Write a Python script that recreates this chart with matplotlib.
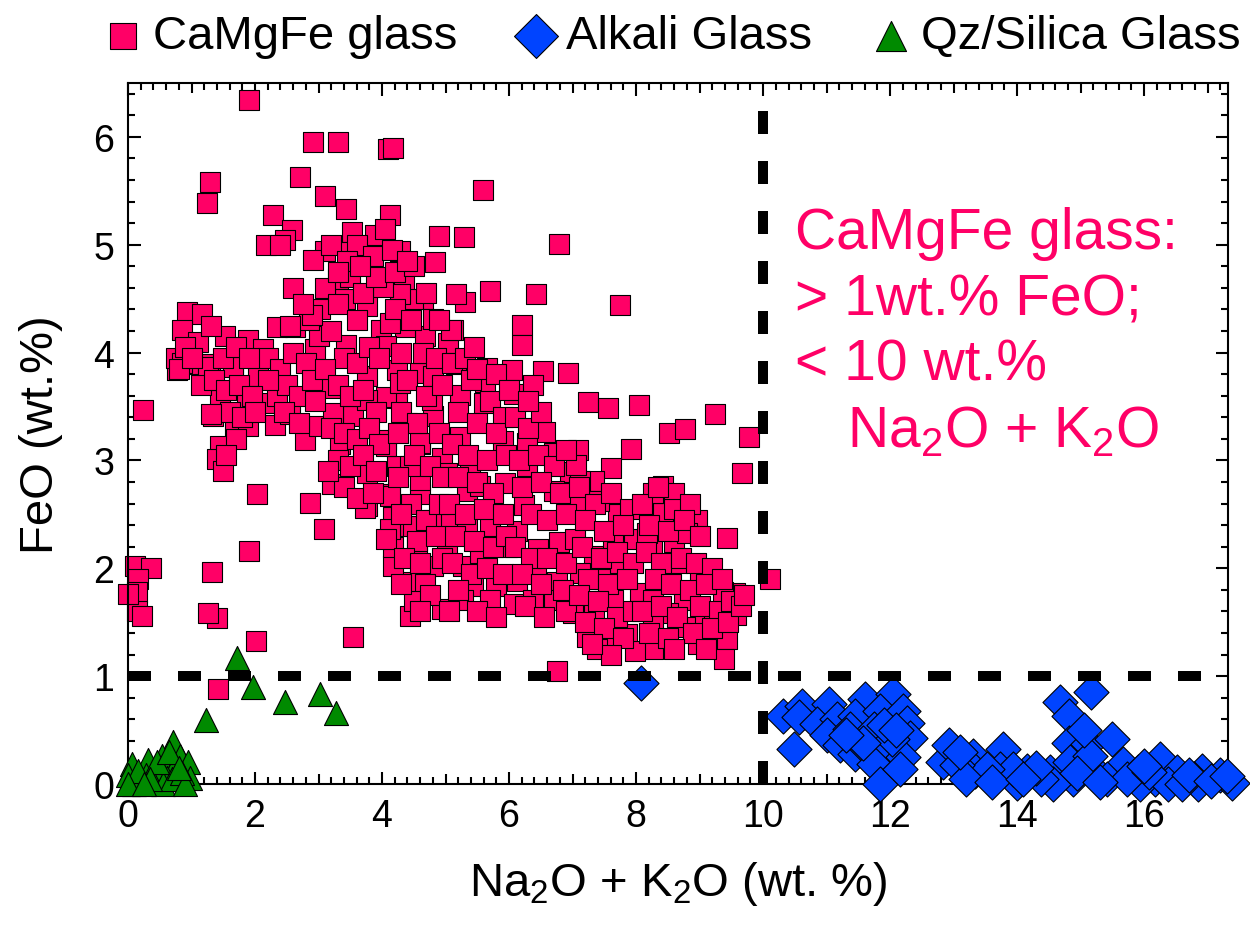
import numpy as np
import matplotlib
matplotlib.use("Agg")
import matplotlib.pyplot as plt
from matplotlib.ticker import MultipleLocator, FixedLocator

plt.rcParams['font.family'] = ['Liberation Sans', 'DejaVu Sans']
plt.rcParams['mathtext.fontset'] = 'custom'
plt.rcParams['mathtext.rm'] = 'Liberation Sans'
plt.rcParams['mathtext.it'] = 'Liberation Sans:italic'

# CaMgFe glass (Na2O+K2O, FeO)
camgfe = np.array([
    (1.91, 6.34), (2.91, 5.95), (3.31, 5.95), (4.10, 5.89), (4.18, 5.90), (2.71, 5.63), (1.29, 5.58),
    (1.25, 5.39), (3.10, 5.45), (3.43, 5.33), (2.28, 5.28), (4.13, 5.28), (2.59, 5.14), (2.18, 5.00),
    (2.47, 5.04), (3.89, 5.09), (3.52, 5.12), (4.90, 5.08), (3.10, 4.94), (3.47, 4.93), (2.92, 4.86),
    (4.28, 4.94), (3.81, 4.81), (4.83, 4.84), (3.30, 4.68), (4.34, 4.66), (4.65, 4.50), (3.02, 4.40),
    (3.42, 4.50), (3.76, 4.43), (2.34, 4.24), (2.63, 4.24), (0.93, 4.38), (1.16, 4.36), (0.85, 4.21),
    (1.53, 4.15), (1.89, 4.12), (2.13, 4.03), (2.94, 4.03), (3.43, 4.07), (3.99, 4.21), (4.68, 4.15),
    (0.92, 3.89), (1.29, 3.89), (1.66, 3.89),
    (5.59, 5.51), (5.29, 5.07), (6.78, 5.01), (5.70, 4.57), (6.43, 4.54), (5.31, 4.47), (5.17, 4.54),
    (6.20, 4.26), (6.20, 4.07), (6.93, 3.81), (6.53, 3.83), (6.04, 3.84), (5.04, 4.09), (5.11, 4.21),
    (4.49, 4.50),
    (7.75, 4.44), (7.25, 3.54), (7.56, 3.49), (8.05, 3.51), (9.24, 3.43), (8.52, 3.25), (8.77, 3.29),
    (9.78, 3.22), (6.57, 3.26), (7.08, 3.10), (7.92, 3.11), (7.60, 2.93), (9.66, 2.88), (6.96, 2.89),
    (7.33, 2.81), (6.70, 2.72), (8.43, 2.76), (8.56, 2.64), (8.96, 2.45), (9.43, 2.28), (7.72, 2.50),
    (8.22, 2.55), (7.41, 2.62), (7.08, 2.61), (6.24, 2.59), (5.94, 2.79), (5.34, 2.72), (4.60, 2.69),
    (4.12, 2.69), (4.94, 3.02), (4.60, 3.15), (5.91, 3.18), (6.28, 3.16), (5.23, 3.22), (4.39, 3.35),
    (4.81, 3.41), (5.60, 3.53), (6.07, 3.62), (6.38, 3.70), (5.62, 3.73), (4.23, 3.58), (4.78, 3.56),
    (5.23, 3.61), (5.17, 3.89), (5.65, 3.86), (4.81, 4.31), (4.36, 4.24), (5.09, 4.21), (4.28, 4.54),
    (4.02, 4.61), (4.13, 4.27), (4.07, 4.06), (4.23, 3.84), (4.60, 3.81), (4.07, 3.59), (4.07, 3.19),
    (4.23, 2.95), (4.60, 2.82), (5.02, 2.88), (5.39, 2.95), (5.54, 2.76), (6.28, 2.95), (7.12, 2.81),
    (7.06, 2.96), (6.70, 3.07),
    (4.18, 2.48), (4.44, 2.39), (4.81, 2.45), (5.09, 2.48), (5.33, 2.36), (5.70, 2.39), (6.12, 2.35),
    (6.46, 2.18), (6.78, 2.24), (7.04, 2.27), (7.33, 2.11), (7.64, 2.27), (7.96, 2.27), (8.25, 2.18),
    (8.59, 2.24), (8.64, 2.05), (9.01, 1.96), (8.75, 1.71), (9.56, 1.77), (9.58, 1.57), (9.43, 1.34),
    (9.38, 1.16), (8.98, 1.30), (9.01, 1.50), (8.51, 1.59), (8.77, 1.46), (8.27, 1.53), (8.27, 1.25),
    (7.85, 1.39), (7.54, 1.28), (7.22, 1.36), (7.38, 1.25), (7.98, 1.23), (6.75, 1.05), (7.00, 1.59),
    (7.33, 1.59), (7.64, 1.71), (8.06, 1.77), (8.27, 1.71), (7.49, 1.90), (7.12, 1.96), (7.75, 2.05),
    (6.75, 1.87), (6.43, 1.96), (6.12, 1.88), (5.80, 1.84), (5.44, 1.84), (5.28, 2.02), (4.81, 2.02),
    (4.39, 1.87), (4.68, 1.85), (4.44, 1.56), (4.94, 1.62), (5.28, 1.71), (5.70, 1.71), (6.07, 1.67),
    (6.38, 1.71), (6.70, 1.71), (4.18, 2.02), (4.18, 2.20), (4.55, 2.20), (5.02, 2.20), (5.54, 2.14),
    (5.96, 2.20), (8.17, 2.33), (8.43, 2.51), (8.59, 2.70), (8.27, 2.70), (8.80, 2.33), (10.11, 1.90),
    (9.37, 1.78), (9.22, 1.59),
    (0.24, 3.47), (0.77, 3.84), (0.95, 3.89), (1.26, 3.87), (1.66, 3.87), (2.05, 3.78), (1.45, 3.56),
    (1.87, 3.52), (2.18, 3.53), (1.34, 3.41), (1.69, 3.30), (1.89, 3.32), (2.31, 3.33), (2.55, 3.43),
    (2.34, 3.60), (2.79, 3.19), (1.45, 3.13), (1.40, 3.01), (1.50, 2.90), (2.03, 2.69), (2.87, 2.61),
    (3.08, 2.36), (3.21, 2.78), (3.34, 3.15), (3.00, 3.32), (3.18, 3.67), (3.76, 3.78), (3.55, 3.41),
    (3.23, 3.44), (3.76, 3.56), (3.76, 2.58), (3.76, 2.88), (4.13, 2.67), (4.13, 2.36), (4.49, 2.39),
    (4.44, 2.95), (4.07, 3.13), (4.60, 3.16), (4.28, 3.72), (4.81, 3.78),
    (1.91, 2.16), (1.32, 1.97), (3.73, 2.56), (4.07, 2.27), (1.40, 1.54), (1.26, 1.59), (0.11, 2.02),
    (0.37, 2.00), (0.16, 1.90), (0.14, 1.78), (0.14, 1.60), (0.22, 1.56), (0.00, 1.76), (3.55, 1.36),
    (2.02, 1.33), (1.41, 0.88),
    (2.20, 3.95), (2.40, 3.85), (2.60, 4.00), (2.80, 3.90), (2.50, 3.70), (2.70, 3.60), (2.90, 3.75),
    (2.20, 3.75), (2.45, 3.45), (2.70, 3.35), (2.95, 3.55), (3.00, 4.15), (2.85, 4.30), (2.55, 4.25),
    (3.10, 4.60), (3.30, 4.45), (3.50, 4.70), (3.70, 4.55), (3.90, 4.70), (3.60, 4.30), (3.20, 4.20),
    (3.40, 3.95), (3.60, 3.90), (3.80, 4.05), (3.95, 3.95), (3.10, 3.85), (3.30, 3.70), (3.50, 3.60),
    (3.70, 3.65), (3.90, 3.45), (3.20, 3.30), (3.40, 3.25), (3.60, 3.20), (3.80, 3.30), (3.95, 3.15),
    (3.30, 3.00), (3.50, 2.95), (3.70, 3.05), (3.90, 2.90), (3.40, 2.75), (3.60, 2.65), (3.15, 2.90),
    (3.85, 2.70),
    (4.20, 4.75), (4.50, 4.80), (4.70, 4.55), (4.20, 4.40), (4.45, 4.30), (4.65, 4.00), (4.30, 4.00),
    (4.90, 4.30), (4.85, 3.95), (4.40, 3.75), (4.70, 3.60), (4.95, 3.70), (4.30, 3.45), (4.55, 3.35),
    (4.90, 3.25), (4.25, 3.25), (4.50, 3.05), (4.75, 2.95), (4.95, 2.85), (4.25, 2.85), (4.45, 2.60),
    (4.70, 2.45), (4.90, 2.60), (4.30, 2.50), (4.55, 2.25), (4.85, 2.30), (4.35, 2.10), (4.60, 2.05),
    (4.95, 2.10), (4.50, 1.70), (4.75, 1.75), (4.30, 1.85), (4.60, 1.60),
    (5.10, 3.90), (5.40, 3.75), (5.70, 3.55), (5.90, 3.40), (5.20, 3.45), (5.50, 3.35), (5.80, 3.25),
    (5.10, 3.15), (5.35, 3.05), (5.65, 3.00), (5.95, 3.05), (5.20, 2.85), (5.50, 2.80), (5.75, 2.70),
    (5.05, 2.60), (5.30, 2.50), (5.60, 2.55), (5.90, 2.50), (5.15, 2.30), (5.45, 2.25), (5.75, 2.20),
    (5.95, 2.30), (5.10, 2.05), (5.40, 1.95), (5.65, 2.00), (5.90, 1.95), (5.20, 1.80), (5.50, 1.60),
    (5.80, 1.55), (5.05, 1.60),
    (6.10, 3.40), (6.30, 3.30), (6.50, 3.45), (6.15, 3.00), (6.45, 3.05), (6.70, 2.95), (6.90, 3.10),
    (6.20, 2.75), (6.50, 2.80), (6.80, 2.70), (6.35, 2.50), (6.60, 2.45), (6.90, 2.50), (6.10, 2.20),
    (6.35, 2.10), (6.60, 2.10), (6.90, 2.05), (6.20, 1.95), (6.50, 1.85), (6.85, 1.80), (6.25, 1.65),
    (6.55, 1.55), (6.90, 1.60),
    (7.10, 2.75), (7.35, 2.60), (7.60, 2.70), (7.90, 2.55), (7.20, 2.45), (7.50, 2.35), (7.80, 2.40),
    (7.15, 2.20), (7.45, 2.10), (7.70, 2.15), (7.95, 2.05), (7.25, 1.90), (7.55, 1.85), (7.85, 1.90),
    (7.10, 1.75), (7.40, 1.70), (7.70, 1.55), (7.95, 1.60), (7.20, 1.50), (7.50, 1.45), (7.80, 1.35),
    (7.60, 1.20), (7.30, 1.30),
    (8.10, 2.60), (8.35, 2.75), (8.60, 2.55), (8.85, 2.60), (8.20, 2.40), (8.50, 2.35), (8.75, 2.45),
    (9.00, 2.30), (8.15, 2.15), (8.40, 2.05), (8.70, 2.10), (8.95, 2.05), (9.20, 2.00), (8.30, 1.90),
    (8.55, 1.85), (8.85, 1.80), (9.10, 1.85), (9.35, 1.90), (8.10, 1.60), (8.40, 1.65), (8.65, 1.55),
    (9.00, 1.65), (9.30, 1.60), (9.50, 1.70), (8.20, 1.40), (8.50, 1.35), (8.90, 1.40), (9.20, 1.45),
    (9.45, 1.50), (9.10, 1.25), (8.60, 1.25), (9.65, 1.65), (9.70, 1.75),
    (1.10, 4.10), (1.30, 4.25), (1.50, 3.95), (1.70, 4.05), (1.90, 3.95), (1.15, 3.70), (1.35, 3.75),
    (1.55, 3.65), (1.75, 3.70), (1.95, 3.60), (1.60, 3.45), (1.80, 3.40), (2.00, 3.45), (1.70, 3.20),
    (1.55, 3.05), (0.75, 3.95), (0.85, 3.90), (0.90, 4.05), (0.80, 3.85), (1.00, 3.95), (1.30, 3.43),
    (3.20, 5.00), (3.60, 5.00), (3.85, 4.90), (4.05, 5.15), (4.15, 4.95), (4.40, 4.85), (3.45, 4.85),
    (3.65, 4.80), (3.30, 4.75), (2.40, 5.00), (2.60, 4.60), (2.90, 4.35), (2.75, 4.45),
    (5.30, 3.95), (5.50, 3.85), (5.80, 3.80), (6.00, 3.65), (6.30, 3.55), (5.45, 4.05),
])

alkali = np.array([
    (8.08, 0.94), (10.31, 0.63), (10.48, 0.32), (10.61, 0.72), (11.03, 0.74), (11.61, 0.79), (12.05, 0.83),
    (10.56, 0.62), (10.85, 0.56), (11.16, 0.60), (11.45, 0.63), (11.84, 0.68), (12.21, 0.68), (12.26, 0.57),
    (12.31, 0.43), (11.00, 0.45), (11.21, 0.36), (11.45, 0.28), (11.63, 0.32), (11.95, 0.32), (12.21, 0.25),
    (11.74, 0.19), (11.84, 0.00), (12.16, 0.14), (11.37, 0.51), (11.74, 0.51), (12.03, 0.42), (11.58, 0.38),
    (11.30, 0.45), (11.90, 0.55), (12.10, 0.50),
    (12.84, 0.20), (12.92, 0.36), (13.31, 0.26), (13.34, 0.12), (13.78, 0.32), (13.73, 0.14), (14.15, 0.12),
    (14.52, 0.11), (14.67, 0.76), (14.81, 0.63), (15.17, 0.85), (14.81, 0.38), (15.12, 0.37), (15.49, 0.42),
    (14.83, 0.20), (14.88, 0.05), (15.20, 0.14), (15.67, 0.19), (15.91, 0.11), (16.25, 0.23), (16.17, 0.05),
    (16.51, 0.11), (16.91, 0.12), (17.20, 0.08), (17.38, 0.01), (16.78, 0.05), (15.41, 0.05), (14.57, 0.00),
    (14.00, 0.01), (14.38, 0.05), (15.94, 0.00), (16.37, 0.00), (16.84, 0.00), (16.60, 0.00), (13.94, 0.14),
    (13.52, 0.14), (13.05, 0.18), (15.73, 0.05), (16.07, 0.11), (15.15, 0.26), (13.20, 0.05), (13.60, 0.02),
    (14.30, 0.15), (14.95, 0.10), (15.30, 0.02), (16.00, 0.17), (16.70, 0.08), (17.05, 0.03), (17.30, 0.07),
    (13.10, 0.30), (14.10, 0.05), (15.05, 0.50),
])

qz_silica = np.array([
    (1.72, 1.17), (1.97, 0.90), (1.23, 0.59), (2.47, 0.76), (3.02, 0.83), (3.28, 0.66), (0.71, 0.39),
    (0.53, 0.26), (0.32, 0.22), (0.06, 0.19), (0.82, 0.26), (0.95, 0.20), (0.74, 0.17), (0.50, 0.14),
    (0.98, 0.06), (0.61, 0.06), (0.29, 0.08), (0.00, 0.08), (0.10, 0.00), (0.20, 0.03), (0.40, 0.02),
    (0.55, 0.00), (0.70, 0.05), (0.85, 0.10), (0.90, 0.00), (0.15, 0.12), (0.45, 0.20), (0.65, 0.30),
    (0.80, 0.15), (0.35, 0.05), (0.00, 0.00), (0.25, 0.00),
])

labels = ['CaMgFe glass', 'Alkali Glass', 'Qz/Silica Glass']
pink = '#FF0066'
blue = '#0044FF'
green = '#008A00'

fig = plt.figure(figsize=(12.5, 9.29), dpi=100)
ax = fig.add_axes([0.1024, 0.155, 0.88, 0.7546])

h1 = ax.scatter(camgfe[:, 0], camgfe[:, 1], marker='s', s=220, c=pink, edgecolors='black',
                linewidths=0.8, zorder=2, clip_on=False, label=labels[0])
h2 = ax.scatter(alkali[:, 0], alkali[:, 1], marker='D', s=320, c=blue, edgecolors='black',
                linewidths=0.8, zorder=3, clip_on=False, label=labels[1])
h3 = ax.scatter(qz_silica[:, 0], qz_silica[:, 1], marker='^', s=300, c=green, edgecolors='black',
                linewidths=0.8, zorder=4, clip_on=False, label=labels[2])

# threshold lines
ax.axhline(1, color='black', lw=7.2, linestyle=(0, (2.3, 2.7)), zorder=6)
ax.axvline(10, color='black', lw=7.2, linestyle=(0, (2.3, 2.7)), zorder=6)

ax.set_xlim(0, 17.32)
ax.set_ylim(0, 6.5)

ax.xaxis.set_major_locator(MultipleLocator(2))
ax.yaxis.set_major_locator(MultipleLocator(1))
xminor = [v / 5 for v in range(0, 88) if v % 5 != 0]
ax.xaxis.set_minor_locator(FixedLocator(xminor))
ax.yaxis.set_minor_locator(MultipleLocator(0.2))
ax.tick_params(which='both', direction='in', top=True, right=True, width=1.5, labelsize=27, pad=10)
ax.tick_params(which='major', length=9)
ax.tick_params(which='minor', length=5)

# medium ticks at odd integers on the x axis
for side in ['bottom', 'top']:
    sec = ax.secondary_xaxis(side)
    sec.set_xticks([1, 3, 5, 7, 9, 11, 13, 15, 17])
    sec.tick_params(direction='in', length=7.5, width=1.5, labelbottom=False, labeltop=False)
    sec.spines[side].set_visible(False)

for sp in ax.spines.values():
    sp.set_linewidth(1.5)

ax.set_xlabel('Na$_2$O + K$_2$O (wt. %)', fontsize=34, labelpad=18)
ax.set_ylabel('FeO (wt.%)', fontsize=34, labelpad=22)

ax.text(10.5, 4.97, 'CaMgFe glass:', color=pink, fontsize=41, va='baseline')
ax.text(10.5, 4.35, '> 1wt.% FeO;', color=pink, fontsize=41, va='baseline')
ax.text(10.5, 3.75, '< 10 wt.%', color=pink, fontsize=41, va='baseline')
ax.text(11.32, 3.13, 'Na$_2$O + K$_2$O', color=pink, fontsize=41, va='baseline')

fig.legend(handles=[h1, h2, h3], loc='center', bbox_to_anchor=(0.536, 0.96), ncol=3,
           frameon=False, fontsize=34, handletextpad=0.15, columnspacing=1.15,
           scatterpoints=1, borderaxespad=0, handlelength=1.0, markerscale=1.25)

fig.savefig('out.png', dpi=100)
